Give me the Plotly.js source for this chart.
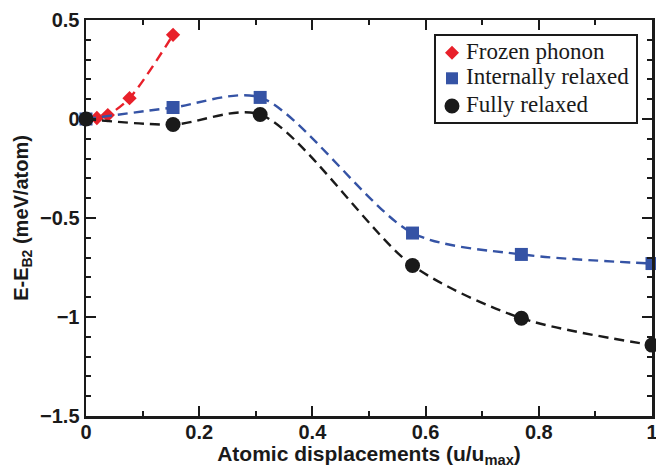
<!DOCTYPE html>
<html><head><meta charset="utf-8">
<script src="https://cdn.plot.ly/plotly-3.0.1.min.js"></script>
<style>html,body{margin:0;padding:0;background:#fff}</style>
</head><body><div id="chart" style="width:656px;height:468px"></div>
<script>
// Data
const frozenX = [0, 0.0192, 0.0385, 0.0769, 0.1538];
const frozenY = [0, 0.005, 0.02, 0.105, 0.425];
const relaxX = [0, 0.1538, 0.3077, 0.5769, 0.7692, 1.0];
const internalY = [0, 0.058, 0.109, -0.576, -0.684, -0.730];
const fullY = [0, -0.028, 0.023, -0.740, -1.006, -1.142];
const names = ["Frozen phonon", "Internally relaxed", "Fully relaxed"];

const red = "#e8202a", blue = "#3553a5", black = "#1a1a1a";

function lineTrace(x, y, name, color, sym, size) {
  return {x: x, y: y, name: name, mode: "lines+markers", type: "scatter", showlegend: false,
    cliponaxis: false,
    line: {color: color, dash: "10px,6px", width: 2.4, shape: "spline", smoothing: 0.8},
    marker: {color: color, symbol: sym, size: size}};
}

const traces = [
  lineTrace(frozenX, frozenY, names[0], red, "diamond", 11),
  lineTrace(relaxX, internalY, names[1], blue, "square", 13),
  lineTrace(relaxX, fullY, names[2], black, "circle", 15)
];

// Legend box (paper coordinates) built from shapes + annotations
const lg = {x0: 0.6166, x1: 0.9735, y0: 0.7399, y1: 0.9621, mx: 0.6466, tx: 0.6678,
  rows: [0.9174, 0.8528, 0.7828]};
const shapes = [
  {type: "rect", xref: "paper", yref: "paper", x0: lg.x0, x1: lg.x1, y0: lg.y0, y1: lg.y1,
   line: {color: black, width: 2}, fillcolor: "#fff", layer: "above"},
  {type: "path", xref: "paper", yref: "paper", xsizemode: "pixel", ysizemode: "pixel",
   xanchor: lg.mx, yanchor: lg.rows[0], path: "M -7 0 L 0 7 L 7 0 L 0 -7 Z",
   fillcolor: red, line: {width: 0}, layer: "above"},
  {type: "rect", xref: "paper", yref: "paper", xsizemode: "pixel", ysizemode: "pixel",
   xanchor: lg.mx, yanchor: lg.rows[1], x0: -6, x1: 6, y0: -6, y1: 6,
   fillcolor: blue, line: {width: 0}, layer: "above"},
  {type: "circle", xref: "paper", yref: "paper", xsizemode: "pixel", ysizemode: "pixel",
   xanchor: lg.mx, yanchor: lg.rows[2], x0: -7.5, x1: 7.5, y0: -7.5, y1: 7.5,
   fillcolor: black, line: {width: 0}, layer: "above"}
];
const annotations = names.map((n, i) => ({
  text: n, xref: "paper", yref: "paper", x: lg.tx, y: lg.rows[i] + 0.004,
  xanchor: "left", yanchor: "middle", showarrow: false,
  font: {family: "Liberation Serif, Times New Roman, serif", size: 23, color: black}
}));

const tickFont = {family: "Liberation Sans, Arial, sans-serif", size: 20, color: "#1a1a1a", weight: "bold"};
const titleFont = {family: "Liberation Sans, Arial, sans-serif", size: 21, color: "#1a1a1a", weight: "bold"};
const layout = {
  width: 656, height: 468,
  margin: {l: 86, r: 4, t: 20, b: 52},
  paper_bgcolor: "#fff", plot_bgcolor: "#fff",
  showlegend: false,
  shapes: shapes, annotations: annotations,
  xaxis: {range: [0, 1], dtick: 0.2, tick0: 0, showgrid: false, zeroline: false,
    showline: true, linewidth: 2.5, linecolor: "#1a1a1a", mirror: "ticks",
    ticks: "inside", ticklen: 10, tickwidth: 2, tickcolor: "#1a1a1a",
    tickfont: tickFont, ticklabeloverflow: "allow", ticklabelstandoff: -4,
    minor: {dtick: 0.1, ticks: "inside", ticklen: 5, tickwidth: 2, tickcolor: "#1a1a1a", showgrid: false},
    title: {text: "<b>Atomic displacements (u/u<sub>max</sub>)</b>", font: titleFont, standoff: 4}},
  yaxis: {range: [-1.5, 0.5], dtick: 0.5, tick0: 0, showgrid: false, zeroline: false,
    showline: true, linewidth: 2.5, linecolor: "#1a1a1a", mirror: "ticks",
    ticks: "inside", ticklen: 10, tickwidth: 2, tickcolor: "#1a1a1a",
    tickfont: tickFont, ticklabeloverflow: "allow",
    minor: {dtick: 0.1, ticks: "inside", ticklen: 5, tickwidth: 2, tickcolor: "#1a1a1a", showgrid: false},
    title: {text: "<b>E-E<sub>B2</sub> (meV/atom)</b>", font: {family: titleFont.family, size: 20, color: black, weight: "bold"}, standoff: 6}}
};

Plotly.newPlot("chart", traces, layout, {displayModeBar: false, staticPlot: true});
</script></body></html>
